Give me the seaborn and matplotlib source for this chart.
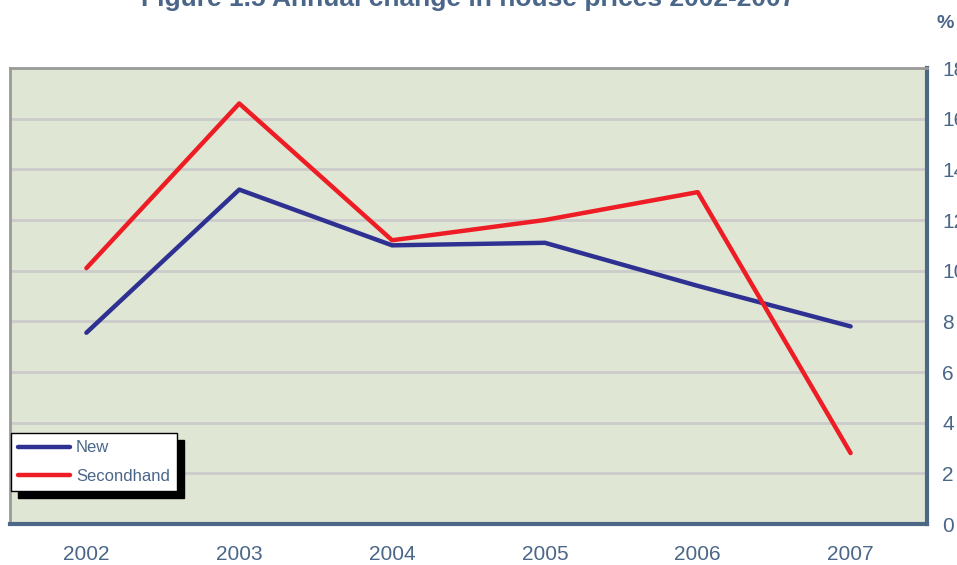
import matplotlib
matplotlib.use("Agg")
import matplotlib.pyplot as plt
import seaborn as sns
import pandas as pd

years = ["2002", "2003", "2004", "2005", "2006", "2007"]
new_vals = [7.55, 13.2, 11.0, 11.1, 9.4, 7.8]
secondhand_vals = [10.1, 16.6, 11.2, 12.0, 13.1, 2.8]
y_ticks = [0, 2, 4, 6, 8, 10, 12, 14, 16, 18]

df = pd.DataFrame({
    "year": years * 2,
    "value": new_vals + secondhand_vals,
    "series": ["New"] * len(years) + ["Secondhand"] * len(years),
})

sns.set_style("white")
plt.rcParams["font.family"] = ["Liberation Sans", "DejaVu Sans"]

text_col = "#4a6688"
fig = plt.figure(figsize=(9.57, 5.65), dpi=100)
ax = fig.add_axes([10 / 957, 1 - 524 / 565, 917 / 957, 456 / 565])
ax.set_facecolor("#dfe6d3")

sns.lineplot(data=df, x="year", y="value", hue="series",
             palette={"New": "#2e3192", "Secondhand": "#ee1c25"},
             linewidth=3.2, ax=ax, sort=False)

ax.set_xlim(-0.5, 5.5)
ax.set_ylim(0, 18)
ax.set_yticks(y_ticks)
ax.yaxis.tick_right()
ax.grid(axis="y", color="#cbcbcb", linewidth=2)
ax.grid(axis="x", visible=False)
ax.set_axisbelow(True)
ax.tick_params(axis="both", length=0, labelsize=15, labelcolor=text_col)
ax.tick_params(axis="y", pad=11)
ax.tick_params(axis="x", pad=15)
for lab in ax.get_yticklabels():
    lab.set_horizontalalignment("left")
ax.set_xlabel("")
ax.set_ylabel("")

ax.spines["left"].set_color("#9a9a9a")
ax.spines["top"].set_color("#9a9a9a")
ax.spines["left"].set_linewidth(2)
ax.spines["top"].set_linewidth(2)
ax.spines["right"].set_color("#4d6787")
ax.spines["bottom"].set_color("#4d6787")
ax.spines["right"].set_linewidth(3)
ax.spines["bottom"].set_linewidth(3)

leg = ax.legend(loc="lower left", bbox_to_anchor=(0.001, 0.072), frameon=True,
                fancybox=False, shadow={"color": "black", "alpha": 1, "ox": 5, "oy": -5},
                fontsize=12, handlelength=3.1, borderaxespad=0, labelspacing=0.8,
                handletextpad=0.35, borderpad=0.45)
leg.get_frame().set_edgecolor("black")
leg.get_frame().set_linewidth(1)
leg.get_frame().set_facecolor("white")
for t in leg.get_texts():
    t.set_color(text_col)
for h in leg.get_lines():
    h.set_linewidth(3.2)

fig.text(468 / 957, 1 - 6 / 565, "Figure 1.5 Annual change in house prices 2002-2007",
         ha="center", va="baseline", fontsize=19, fontweight="bold", color=text_col)
fig.text(945 / 957, 1 - 23 / 565, "%", ha="center", va="center",
         fontsize=14, fontweight="bold", color=text_col)

fig.savefig("out.png", dpi=100)
